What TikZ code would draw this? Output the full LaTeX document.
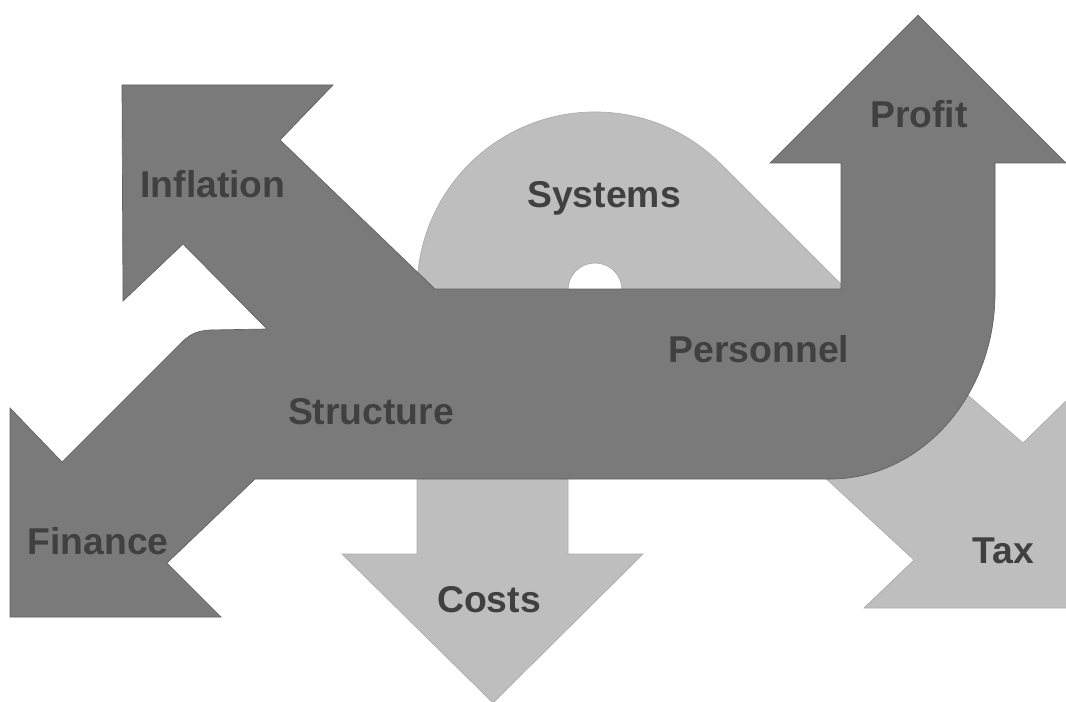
\documentclass[tikz,border=0pt]{standalone}
\usepackage{fontspec}
\setmainfont{Liberation Sans}
\definecolor{arrowdark}{RGB}{122,122,122}
\definecolor{arrowdarkline}{RGB}{96,96,96}
\definecolor{arrowlight}{RGB}{190,190,190}
\definecolor{arrowlightline}{RGB}{172,172,172}
\definecolor{labelgray}{RGB}{64,64,64}
\tikzset{every picture/.style={line width=0.75pt}}

\begin{document}
\begin{tikzpicture}[x=0.75pt,y=0.75pt,yscale=-1,xscale=1,
  lbl/.style={font=\bfseries\fontsize{28}{32}\selectfont, text=labelgray, inner sep=0.75pt, anchor=base}]
\useasboundingbox (0,0) rectangle (1066,702);
\clip (0,0) rectangle (1066,702);

%Shape: light U-turn arrow (Costs - Systems - Tax)
\fill [arrowlight, draw=arrowlightline, line width=0.5] (417,554) -- (342,554) -- (493,703) -- (643,554) -- (568,554) -- (568,290) arc [start angle=180, end angle=360, radius=27] -- (914,560) -- (864,608) -- (1072,608) -- (1072,395) -- (1023,443) -- (850,293) -- (720.9,164.1) arc [start angle=315, end angle=180, radius=178] -- cycle ;

%Shape: dark arrow (Inflation - Finance - Profit)
\fill [arrowdark, draw=arrowdarkline, line width=0.5] (122,85) -- (333,85) -- (280,140) -- (435,289) -- (841,289) -- (841,163) -- (770,163) -- (918,15) -- (1066,163) -- (995,163) -- (995,293) arc [start angle=0, end angle=90, x radius=165, y radius=186] -- (255,479) -- (167,563) -- (221,617) -- (10,617) -- (10,408) -- (62,462) -- (180,344) .. controls (190,334) and (196,331) .. (210,330) -- (267,329) -- (183,244) -- (123,301) -- cycle ;

% Text Node
\node [lbl] (inflation) at (213,198) {Inflation};
% Text Node
\node [lbl] (systems) at (604,208) {Systems};
% Text Node
\node [lbl] (profit) at (919,128) {Profit};
% Text Node
\node [lbl] (personnel) at (759,362) {Personnel};
% Text Node
\node [lbl] (structure) at (371,424) {Structure};
% Text Node
\node [lbl] (finance) at (98,554) {Finance};
% Text Node
\node [lbl] (costs) at (489,612) {Costs};
% Text Node
\node [lbl] (tax) at (1003,563) {Tax};

\end{tikzpicture}
\end{document}
